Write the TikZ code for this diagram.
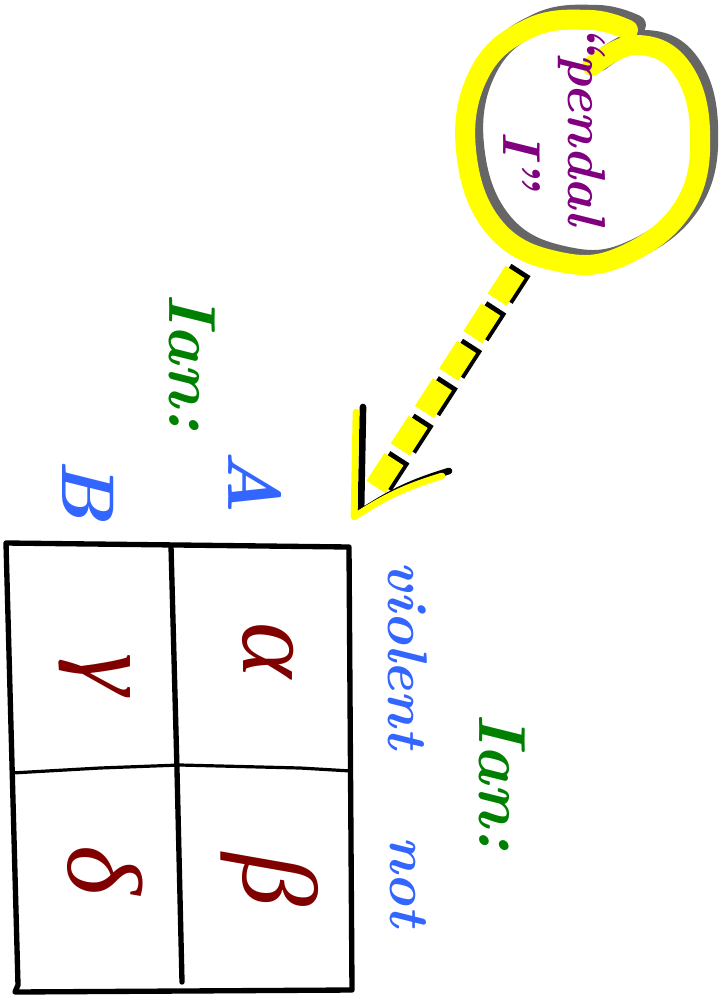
\documentclass[tikz,border=0pt]{standalone}
\usepackage{fontspec}
\newfontfamily\greekfont{Liberation Serif}
\usepackage{tikz}
\usetikzlibrary{positioning,calc}
\definecolor{inkGreen}{RGB}{0,128,0}
\definecolor{inkBlue}{RGB}{51,102,255}
\definecolor{inkPurple}{RGB}{128,0,128}
\definecolor{inkRed}{RGB}{128,0,0}
\definecolor{hiYellow}{RGB}{255,255,0}
\definecolor{hiGray}{RGB}{102,102,102}

\begin{document}
\begin{tikzpicture}[x=0.75pt, y=-0.75pt,
  every node/.style={rotate=-90, inner sep=0pt},
  player/.style={inkGreen, font=\fontsize{50}{54}\selectfont\bfseries\itshape},
  move/.style={inkBlue, font=\fontsize{42}{46}\selectfont\bfseries\itshape},
  rowmove/.style={inkBlue, font=\fontsize{56}{60}\selectfont\bfseries\itshape},
  payoff/.style={inkRed, font=\greekfont\fontsize{80}{84}\selectfont\itshape},
  note/.style={inkPurple, font=\fontsize{40}{44}\selectfont\bfseries\itshape},
  grid/.style={line width=4pt, line join=round, line cap=round},
  loopband/.style={line width=15pt, line cap=round, line join=round},
  dashband/.style={line width=17pt, dash pattern=on 24.75pt off 8.7pt},
  headband/.style={line width=5pt, line cap=round, line join=round}]
  % page
  \fill[white] (0,0) rectangle (728,1004);
  % Payoff matrix
  \draw[grid] (6,543) -- (349,547) -- (352,990) -- (15,992) -- (18,985) -- cycle;
  \draw[grid] (171,546) -- (177,770) -- (182,982);
  \draw[grid, line width=2.4pt] (12,773) -- (100,768) -- (180,765) -- (300,768) -- (351,771);
  \node[payoff] (aviolent) at (268,650) {α};
  \node[payoff] (anot) at (270,880) {β};
  \node[payoff] (bviolent) at (95,675) {γ};
  \node[payoff] (bnot) at (105,870) {δ};
  % Players and moves
  \node[player] (rowplayer) at (192,362) {Ian:};
  \node[player] (colplayer) at (502,782) {Ian:};
  \node[rowmove] (movea) at (255,482) {A};
  \node[rowmove] (moveb) at (88,490) {B};
  \node[move] (violent) at (408,655) {violent};
  \node[move] (notmove) at (408,882) {not};
  % Circled note
  \draw[hiGray, loopband, transform canvas={shift={(8,-5)}}] plot[smooth, tension=0.7] coordinates {
    (592,66) (635,45) (680,66) (700,130) (685,205) (625,255) (560,262)
    (495,228) (466,150) (480,72) (530,28) (590,20) (628,30)};
  \draw[hiYellow, loopband] plot[smooth, tension=0.7] coordinates {
    (592,66) (635,45) (680,66) (700,130) (685,205) (625,255) (560,262)
    (495,228) (466,150) (480,72) (530,28) (590,20) (628,30)};
  \node[note] (period) at (582,124) {``pendal};
  \node[note] (periodnum) at (522,160) {I''};
  % Dashed pointer to the corner
  \coordinate (loopfoot) at (515,272);
  \coordinate (cornertip) at (376,487);
  \draw[black, dashband, transform canvas={shift={(6,-2)}}] (loopfoot) -- (cornertip);
  \draw[hiYellow, dashband] (loopfoot) -- (cornertip);
  \coordinate (headtop) at (356,412);
  \coordinate (headcorner) at (354,517);
  \coordinate (headside) at (442,476);
  \draw[black, headband, transform canvas={shift={(7,-5)}}] (headtop) -- (headcorner) to[bend left=8] (headside);
  \draw[hiYellow, headband] (headtop) -- (headcorner) to[bend left=8] (headside);
\end{tikzpicture}
\end{document}
